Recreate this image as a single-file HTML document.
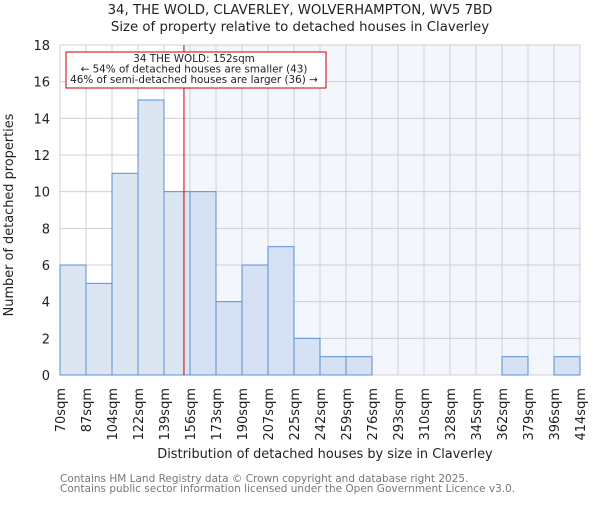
<!DOCTYPE html>
<html><head><meta charset="utf-8"><style>
body{margin:0;background:#fff;font-family:"Liberation Sans","DejaVu Sans",sans-serif}
svg text{font-family:"DejaVu Sans","Liberation Sans",sans-serif}
</style></head><body>
<svg id="c" width="600" height="500" xmlns="http://www.w3.org/2000/svg">
<text x="300" y="14" text-anchor="middle" font-size="13.3" fill="#222">34, THE WOLD, CLAVERLEY, WOLVERHAMPTON, WV5 7BD</text>
<text x="300" y="31" text-anchor="middle" font-size="13.3" fill="#222">Size of property relative to detached houses in Claverley</text>
<g id="plot"></g>
<text x="325" y="458" text-anchor="middle" font-size="12.9" fill="#222">Distribution of detached houses by size in Claverley</text>
<text transform="translate(13,215) rotate(-90)" text-anchor="middle" font-size="12.9" fill="#222">Number of detached properties</text>
<text x="60" y="482" font-size="10.5" fill="#777">Contains HM Land Registry data © Crown copyright and database right 2025.</text>
<text x="60" y="492" font-size="10.5" fill="#777">Contains public sector information licensed under the Open Government Licence v3.0.</text>
</svg>
<script>
const binLabels=["70sqm","87sqm","104sqm","122sqm","139sqm","156sqm","173sqm","190sqm","207sqm","225sqm","242sqm","259sqm","276sqm","293sqm","310sqm","328sqm","345sqm","362sqm","379sqm","396sqm","414sqm"];
const counts=[6,5,11,15,10,10,4,6,7,2,1,1,0,0,0,0,0,1,0,1];
const yTicks=[0,2,4,6,8,10,12,14,16,18];
const subjectSize=152;
const minSize=70, maxSize=414, yMax=18;
const L=60,R=580,T=45,B=375;
const NS="http://www.w3.org/2000/svg";
const g=document.getElementById('plot');
const xs=v=>L+(v-minSize)/(maxSize-minSize)*(R-L);
const xi=i=>L+i*(R-L)/counts.length;
const ys=v=>B-v/yMax*(B-T);
function mk(t,a,p){const e=document.createElementNS(NS,t);for(const k in a)e.setAttribute(k,a[k]);(p||g).appendChild(e);return e;}
const sx=xs(subjectSize);
let e=mk('rect',{x:sx,y:T,width:R-sx,height:B-T,fill:'#f3f6fd'});


for(let i=0;i<=counts.length;i++){e=mk('line',{x1:xi(i),x2:xi(i),y1:T,y2:B,stroke:'#d0d0d0','stroke-width':1});

}
yTicks.forEach(t=>{e=mk('line',{x1:L,x2:R,y1:ys(t),y2:ys(t),stroke:'#d0d0d0','stroke-width':1});


e=mk('text',{x:L-10,y:ys(t)+5,'text-anchor':'end','font-size':13,fill:'#222'});e.textContent=t;

});
counts.forEach((c,i)=>{const x0=xi(i),x1=xi(i+1);const right=x0>=sx;
e=mk('rect',{x:x0,y:ys(c),width:x1-x0,height:B-ys(c),fill:right?'#d6e1f3':'#dce6f2',stroke:'#5b8fd6','stroke-width':1});

});
binLabels.forEach((l,i)=>{const x=xi(i);
e=mk('text',{transform:`translate(${x+5},388) rotate(-90)`,'text-anchor':'end','font-size':13,fill:'#222'});e.textContent=l;

});
e=mk('line',{x1:sx,x2:sx,y1:T,y2:B,stroke:'#cc0000','stroke-width':1});


e=mk('rect',{x:66,y:52,width:260,height:36,fill:'#fff',stroke:'#cc0000','stroke-width':1});


["34 THE WOLD: 152sqm","← 54% of detached houses are smaller (43)","46% of semi-detached houses are larger (36) →"].forEach((s,k)=>{
e=mk('text',{x:194,y:62+k*10.5,'text-anchor':'middle','font-size':10.4,fill:'#222'});e.textContent=s;

});
</script>
</body></html>
